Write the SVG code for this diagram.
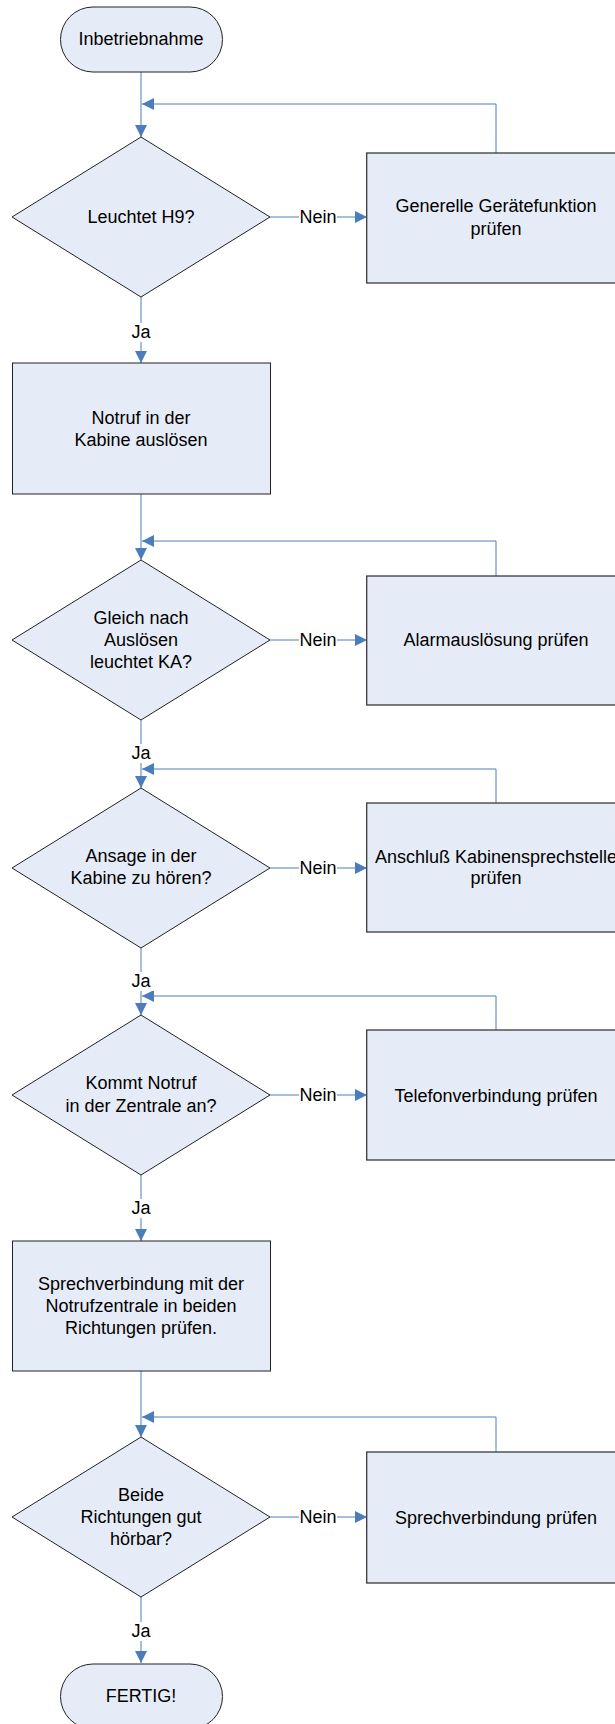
<svg xmlns="http://www.w3.org/2000/svg" width="615" height="1724" viewBox="0 0 615 1724">
  <style>
    .shape { fill: #e6ecf7; stroke: #222222; stroke-width: 1; }
    .box { fill: #e6ecf7; stroke: #3a3a3a; stroke-width: 1.3; }
    .txt { font-family: "Liberation Sans", Arial, sans-serif; font-size: 18px; fill: #000000; text-anchor: middle; }
    .wire { fill: none; stroke: #4a7ebb; stroke-width: 1; }
    .gap { fill: #ffffff; stroke: none; }
  </style>
  <defs>
    <marker id="arrow" viewBox="0 0 12 12" refX="12" refY="6" markerWidth="12" markerHeight="12" markerUnits="userSpaceOnUse" orient="auto">
      <path d="M0,0 L12,6 L0,12 z" fill="#4a7ebb"/>
    </marker>
  </defs>

  <!-- connectors -->
  <g id="connectors">
    <!-- main flow -->
    <path class="wire" d="M141,72 V137" marker-end="url(#arrow)"/>
    <path class="wire" d="M141,297 V363" marker-end="url(#arrow)"/>
    <path class="wire" d="M141,494 V560" marker-end="url(#arrow)"/>
    <path class="wire" d="M141,720 V788" marker-end="url(#arrow)"/>
    <path class="wire" d="M141,948 V1015" marker-end="url(#arrow)"/>
    <path class="wire" d="M141,1175 V1241" marker-end="url(#arrow)"/>
    <path class="wire" d="M141,1371 V1437" marker-end="url(#arrow)"/>
    <path class="wire" d="M141,1597 V1663" marker-end="url(#arrow)"/>

    <!-- "Nein" branches -->
    <path class="wire" d="M270,217 H367" marker-end="url(#arrow)"/>
    <path class="wire" d="M270,640 H367" marker-end="url(#arrow)"/>
    <path class="wire" d="M270,868 H367" marker-end="url(#arrow)"/>
    <path class="wire" d="M270,1095 H367" marker-end="url(#arrow)"/>
    <path class="wire" d="M270,1517 H367" marker-end="url(#arrow)"/>

    <!-- loops back after each check -->
    <path class="wire" d="M496,153 V104 H142" marker-end="url(#arrow)"/>
    <path class="wire" d="M496,576 V541 H142" marker-end="url(#arrow)"/>
    <path class="wire" d="M496,803 V769 H142" marker-end="url(#arrow)"/>
    <path class="wire" d="M496,1030 V996 H142" marker-end="url(#arrow)"/>
    <path class="wire" d="M496,1452 V1417 H142" marker-end="url(#arrow)"/>

    <!-- labels -->
    <rect class="gap" x="128" y="323" width="26" height="19"/>
    <text class="txt" x="141" y="338">Ja</text>
    <rect class="gap" x="128" y="744" width="26" height="19"/>
    <text class="txt" x="141" y="759">Ja</text>
    <rect class="gap" x="128" y="972" width="26" height="19"/>
    <text class="txt" x="141" y="987">Ja</text>
    <rect class="gap" x="128" y="1199" width="26" height="19"/>
    <text class="txt" x="141" y="1214">Ja</text>
    <rect class="gap" x="128" y="1622" width="26" height="19"/>
    <text class="txt" x="141" y="1637">Ja</text>

    <rect class="gap" x="299" y="208" width="38" height="18"/>
    <text class="txt" x="318" y="223">Nein</text>
    <rect class="gap" x="299" y="631" width="38" height="18"/>
    <text class="txt" x="318" y="646">Nein</text>
    <rect class="gap" x="299" y="859" width="38" height="18"/>
    <text class="txt" x="318" y="874">Nein</text>
    <rect class="gap" x="299" y="1086" width="38" height="18"/>
    <text class="txt" x="318" y="1101">Nein</text>
    <rect class="gap" x="299" y="1508" width="38" height="18"/>
    <text class="txt" x="318" y="1523">Nein</text>
  </g>

  <!-- start -->
  <g id="start">
    <rect class="shape" x="60.5" y="7" width="162" height="65" rx="32.5" ry="32.5"/>
    <text class="txt" x="141" y="45">Inbetriebnahme</text>
  </g>

  <g id="check-h9">
    <polygon class="shape" points="141,137 270,217 141,297 12,217"/>
    <text class="txt" x="141" y="223">Leuchtet H9?</text>
  </g>

  <g id="fix-device">
    <rect class="box" x="366.7" y="153" width="258" height="130"/>
    <text class="txt" x="496" y="212">Generelle Gerätefunktion</text>
    <text class="txt" x="496" y="235">prüfen</text>
  </g>

  <g id="trigger-call">
    <rect class="shape" x="12.5" y="363" width="258" height="131"/>
    <text class="txt" x="141" y="424">Notruf in der</text>
    <text class="txt" x="141" y="446">Kabine auslösen</text>
  </g>

  <g id="check-ka">
    <polygon class="shape" points="141,560 270,640 141,720 12,640"/>
    <text class="txt" x="141" y="624">Gleich nach</text>
    <text class="txt" x="141" y="646">Auslösen</text>
    <text class="txt" x="141" y="668">leuchtet KA?</text>
  </g>

  <g id="fix-alarm">
    <rect class="box" x="366.7" y="576" width="258" height="129"/>
    <text class="txt" x="496" y="646">Alarmauslösung prüfen</text>
  </g>

  <g id="check-announcement">
    <polygon class="shape" points="141,788 270,868 141,948 12,868"/>
    <text class="txt" x="141" y="862">Ansage in der</text>
    <text class="txt" x="141" y="884">Kabine zu hören?</text>
  </g>

  <g id="fix-cabin-station">
    <rect class="box" x="366.7" y="803" width="258" height="129"/>
    <text class="txt" x="496" y="863">Anschluß Kabinensprechstelle</text>
    <text class="txt" x="496" y="884">prüfen</text>
  </g>

  <g id="check-central">
    <polygon class="shape" points="141,1015 270,1095 141,1175 12,1095"/>
    <text class="txt" x="141" y="1089">Kommt Notruf</text>
    <text class="txt" x="141" y="1112">in der Zentrale an?</text>
  </g>

  <g id="fix-phone">
    <rect class="box" x="366.7" y="1030" width="258" height="130"/>
    <text class="txt" x="496" y="1102">Telefonverbindung prüfen</text>
  </g>

  <g id="test-voice">
    <rect class="shape" x="12.5" y="1241" width="258" height="130"/>
    <text class="txt" x="141" y="1290">Sprechverbindung mit der</text>
    <text class="txt" x="141" y="1312">Notrufzentrale in beiden</text>
    <text class="txt" x="141" y="1334">Richtungen prüfen.</text>
  </g>

  <g id="check-audible">
    <polygon class="shape" points="141,1437 270,1517 141,1597 12,1517"/>
    <text class="txt" x="141" y="1501">Beide</text>
    <text class="txt" x="141" y="1523">Richtungen gut</text>
    <text class="txt" x="141" y="1545">hörbar?</text>
  </g>

  <g id="fix-voice">
    <rect class="box" x="366.7" y="1452" width="258" height="131"/>
    <text class="txt" x="496" y="1524">Sprechverbindung prüfen</text>
  </g>

  <g id="end">
    <rect class="shape" x="60.5" y="1664" width="162" height="65" rx="32.5" ry="32.5"/>
    <text class="txt" x="141" y="1702">FERTIG!</text>
  </g>
</svg>
